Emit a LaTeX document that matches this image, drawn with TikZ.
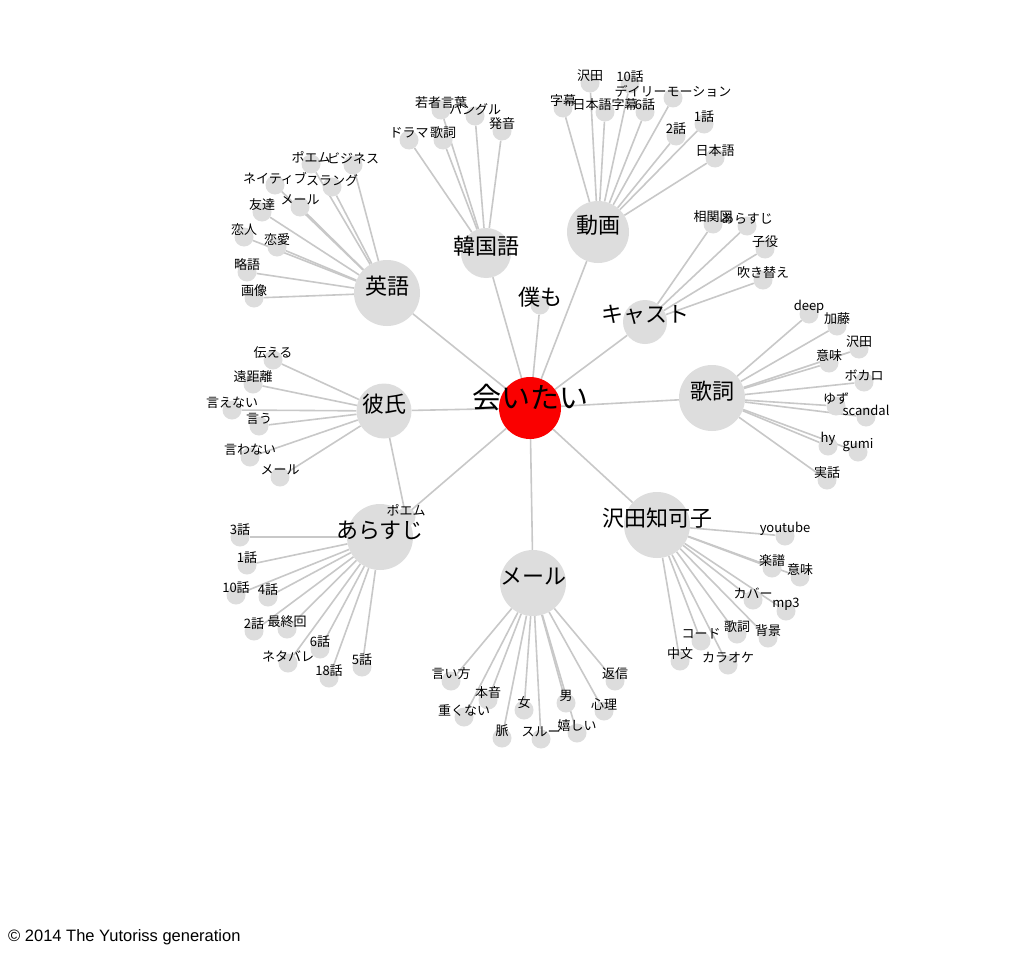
\documentclass[tikz,border=0pt]{standalone}
\usepackage{fontspec}
\setmainfont{Liberation Sans}
\newfontfamily\cjk{Noto Sans CJK JP}
\definecolor{nodegray}{RGB}{221,221,221}
\definecolor{edgegray}{RGB}{200,200,200}
\definecolor{hotred}{RGB}{250,0,0}
\pgfdeclarelayer{edges}
\pgfdeclarelayer{leaves}
\pgfdeclarelayer{labels}
\pgfsetlayers{edges,leaves,main,labels}
\tikzset{
  hub/.style  ={circle, fill=nodegray, inner sep=0pt, minimum size=66pt},
  leaf/.style ={circle, fill=nodegray, inner sep=0pt, minimum size=19pt},
  lnk/.style  ={draw=edgegray, line width=1.6pt},
  lbl/.style  ={font=\cjk\fontsize{13}{13}\selectfont, inner sep=0pt},
  hlbl/.style ={font=\cjk\fontsize{22}{22}\selectfont, inner sep=0pt},
}
% hub: name, position, diameter, text
\newcommand\hub[4]{%
  \node[hub, minimum size=#3] (#1) at (#2) {};
  \begin{pgfonlayer}{labels}
    \node[hlbl] (#1-t) at ([yshift=7pt]#1.center) {#4};
  \end{pgfonlayer}}
% leaf: name, position, text, hub
\newcommand\leaf[4]{%
  \begin{pgfonlayer}{leaves}
    \node[leaf] (#1) at (#2) {};
  \end{pgfonlayer}
  \begin{pgfonlayer}{edges}
    \draw[lnk] (#4) -- (#1);
  \end{pgfonlayer}
  \begin{pgfonlayer}{labels}
    \node[lbl] (#1-t) at ([yshift=7pt]#1.center) {#3};
  \end{pgfonlayer}}
\begin{document}
\begin{tikzpicture}[x=1pt, y=-1pt]
\begin{pgfonlayer}{edges}
  \fill[white] (0,0) rectangle (1024,963);
\end{pgfonlayer}
\useasboundingbox (0,0) rectangle (1024,963);

% ---- centre and hubs -------------------------------------------------
\node[hub, fill=hotred, minimum size=62pt] (aitai) at (530,408) {};
\begin{pgfonlayer}{labels}
  \node[hlbl, font=\cjk\fontsize{29}{29}\selectfont] (aitai-t) at ([yshift=10pt]aitai.center) {会いたい};
\end{pgfonlayer}
\hub{eigo}{387,293}{66pt}{英語}
\hub{kankoku}{486,253}{50pt}{韓国語}
\hub{douga}{598,232}{62pt}{動画}
\hub{cast}{645,322}{44pt}{キャスト}
\hub{kashi}{712,398}{66pt}{歌詞}
\hub{chikako}{657,525}{66pt}{沢田知可子}
\hub{mail}{533,583}{66pt}{メール}
\hub{arasuji}{380,537}{66pt}{あらすじ}
\hub{kareshi}{384,411}{55pt}{彼氏}
\begin{pgfonlayer}{leaves}
  \node[leaf] (bokumo) at (540,305) {};
\end{pgfonlayer}
\begin{pgfonlayer}{labels}
  \node[hlbl] (bokumo-t) at ([yshift=8pt]bokumo.center) {僕も};
\end{pgfonlayer}

\begin{pgfonlayer}{edges}
  \foreach \h in {eigo,kankoku,douga,cast,kashi,chikako,mail,arasuji,kareshi,bokumo}
    \draw[lnk] (aitai) -- (\h);
\end{pgfonlayer}

% ---- leaves ----------------------------------------------------------
\foreach \nm/\px/\py/\txt in {gazo/254/298/画像, ryaku/247/272/略語,
    koibito/244/237/恋人, renai/277/247/恋愛, tomo/262/212/友達,
    mail/300/207/メール, native/275/185/ネイティブ, slang/332/187/スラング,
    poem/311/164/ポエム, biz/353/165/ビジネス}
  \leaf{eigo-\nm}{\px,\py}{\txt}{eigo};

\foreach \nm/\px/\py/\txt in {wakamono/441/110/若者言葉, hangul/475/116/ハングル,
    hatsuon/502/131/発音, drama/409/140/ドラマ, kashi/443/140/歌詞}
  \leaf{kankoku-\nm}{\px,\py}{\txt}{kankoku};

\foreach \nm/\px/\py/\txt in {sawada/590/83/沢田, ep10/630/84/10話,
    daily/673/98/デイリーモーション, jimaku/563/108/字幕,
    njimaku/605/112/日本語字幕, ep6/645/112/6話, ep2/676/136/2話,
    ep1/704/124/1話, nihongo/715/158/日本語}
  \leaf{douga-\nm}{\px,\py}{\txt}{douga};

\foreach \nm/\px/\py/\txt in {soukan/713/224/相関図, arasuji/747/226/あらすじ,
    koyaku/765/249/子役, fukikae/763/280/吹き替え}
  \leaf{cast-\nm}{\px,\py}{\txt}{cast};

\foreach \nm/\px/\py/\txt in {deep/809/314/deep, katou/837/326/加藤,
    sawada/859/349/沢田, imi/829/363/意味, vocalo/864/382/ボカロ,
    yuzu/836/406/ゆず, scandal/866/417/scandal, hy/828/446/hy,
    gumi/858/452/gumi, jitsuwa/827/480/実話}
  \leaf{kashi-\nm}{\px,\py}{\txt}{kashi};

\foreach \nm/\px/\py/\txt in {youtube/785/536/youtube, gakufu/772/568/楽譜,
    imi/800/577/意味, cover/753/600/カバー, mp3/786/611/mp3,
    kashi/737/634/歌詞, haikei/768/638/背景, code/701/641/コード,
    chuubun/680/661/中文, karaoke/728/665/カラオケ}
  \leaf{chikako-\nm}{\px,\py}{\txt}{chikako};

\foreach \nm/\px/\py/\txt in {iikata/451/681/言い方, henshin/615/681/返信,
    honne/488/700/本音, omoku/464/717/重くない, onna/524/710/女,
    otoko/566/703/男, shinri/604/711/心理, myaku/502/738/脈,
    through/541/739/スルー, ureshii/577/733/嬉しい}
  \leaf{mail-\nm}{\px,\py}{\txt}{mail};

\foreach \nm/\px/\py/\txt in {ep3/240/537/3話, ep1/247/565/1話,
    ep10/236/595/10話, ep4/268/597/4話, ep2/254/631/2話,
    saishuu/287/629/最終回, ep6/320/649/6話, netabare/288/663/ネタバレ,
    ep18/329/678/18話, ep5/362/667/5話}
  \leaf{arasuji-\nm}{\px,\py}{\txt}{arasuji};

\foreach \nm/\px/\py/\txt in {tsutaeru/273/360/伝える, enkyori/253/384/遠距離,
    ienai/232/410/言えない, iu/259/426/言う, iwanai/250/457/言わない,
    mail/280/477/メール, poem/406/517/ポエム}
  \leaf{kareshi-\nm}{\px,\py}{\txt}{kareshi};

% ---- footer ----------------------------------------------------------
\node[anchor=west, inner sep=0pt, font=\fontsize{16.5}{16.5}\selectfont] (copy) at (8,937)
  {© 2014 The Yutoriss generation};

\end{tikzpicture}
\end{document}
